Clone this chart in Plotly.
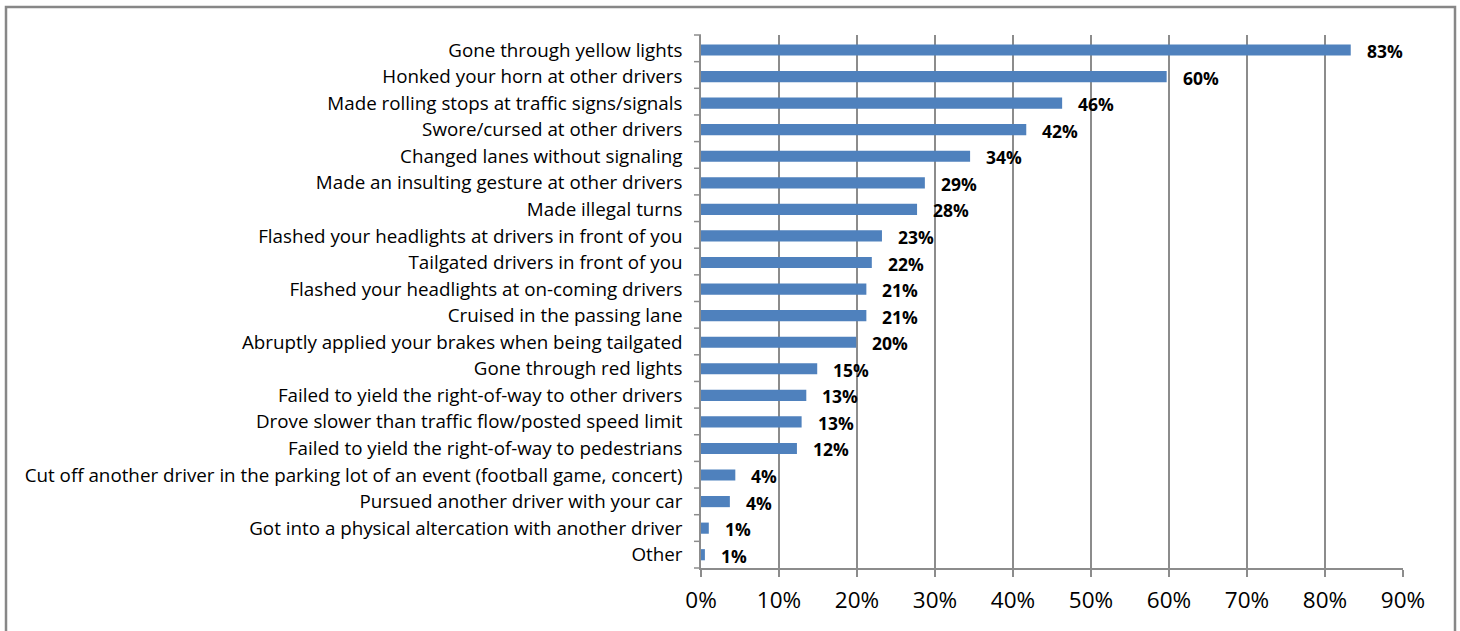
import plotly.graph_objects as go

categories = [
    "Gone through yellow lights",
    "Honked your horn at other drivers",
    "Made rolling stops at traffic signs/signals",
    "Swore/cursed at other drivers",
    "Changed lanes without signaling",
    "Made an insulting gesture at other drivers",
    "Made illegal turns",
    "Flashed your headlights at drivers in front of you",
    "Tailgated drivers in front of you",
    "Flashed your headlights at on-coming drivers",
    "Cruised in the passing lane",
    "Abruptly applied your brakes when being tailgated",
    "Gone through red lights",
    "Failed to yield the right-of-way to other drivers",
    "Drove slower than traffic flow/posted speed limit",
    "Failed to yield the right-of-way to pedestrians",
    "Cut off another driver in the parking lot of an event (football game, concert)",
    "Pursued another driver with your car",
    "Got into a physical altercation with another driver",
    "Other",
]
values = [0.833, 0.597, 0.463, 0.417, 0.345, 0.287, 0.277, 0.232, 0.219, 0.212,
          0.212, 0.199, 0.149, 0.135, 0.129, 0.123, 0.044, 0.037, 0.010, 0.005]
labels = ["83%", "60%", "46%", "42%", "34%", "29%", "28%", "23%", "22%", "21%",
          "21%", "20%", "15%", "13%", "13%", "12%", "4%", "4%", "1%", "1%"]
x_ticks = [0, 0.1, 0.2, 0.3, 0.4, 0.5, 0.6, 0.7, 0.8, 0.9]
x_tick_text = ["0%", "10%", "20%", "30%", "40%", "50%", "60%", "70%", "80%", "90%"]

W, H = 1460, 631
ml, mr, mt, mb = 701, 57, 35, 63
FONT = "'Open Sans', Lato, sans-serif"

fig = go.Figure(go.Bar(
    x=values, y=categories, orientation="h",
    marker=dict(color="#4F81BD", line=dict(width=0)),
    width=0.42,
))

for c, v, t in zip(categories, values, labels):
    fig.add_annotation(x=v, y=c, text="<b>%s</b>" % t, showarrow=False,
                       xanchor="left", yanchor="middle", xshift=14, yshift=-1,
                       font=dict(family=FONT, size=17.5, color="#000000"))

pw = W - ml - mr
ph = H - mt - mb
# outer border of the chart (in pixel terms converted to paper)
x0 = (6 - ml) / pw
x1 = (1455 - ml) / pw
y1 = 1 + (mt - 7) / ph
y0 = -(mb + 10) / ph
fig.add_shape(type="rect", xref="paper", yref="paper", x0=x0, x1=x1, y0=y0, y1=y1,
              line=dict(color="#878787", width=2.5), fillcolor="rgba(0,0,0,0)", layer="below")

fig.update_layout(
    width=W, height=H,
    margin=dict(l=ml, r=mr, t=mt, b=mb, autoexpand=False),
    paper_bgcolor="white", plot_bgcolor="white",
    showlegend=False,
    bargap=0.58,
    xaxis=dict(
        range=[0, 0.9], tickvals=x_ticks, ticktext=x_tick_text,
        showgrid=True, gridcolor="#8C8C8C", gridwidth=1.5,
        showline=True, linecolor="#8C8C8C", linewidth=1.5,
        ticks="outside", ticklen=7, tickcolor="#8C8C8C", tickwidth=1.5,
        tickfont=dict(family=FONT, size=22.5, color="#000000"),
        ticklabelstandoff=4,
        zeroline=False, fixedrange=True,
    ),
    yaxis=dict(
        autorange="reversed",
        showline=True, linecolor="#8C8C8C", linewidth=1.5,
        ticks="", showgrid=False,
        tickfont=dict(family=FONT, size=18.8, color="#000000"),
        ticklabelstandoff=13,
        fixedrange=True,
    ),
)

# y category boundary tick marks (outside, at category edges)
for i in range(len(categories) + 1):
    yp = 1 - i / len(categories)
    fig.add_shape(type="line", xref="paper", yref="paper",
                  x0=-7 / pw, x1=0, y0=yp, y1=yp,
                  line=dict(color="#8C8C8C", width=1.5))

fig.write_html("out.html", config={"displayModeBar": False},
               post_script="document.body.style.margin='0';document.body.style.overflow='hidden';")
